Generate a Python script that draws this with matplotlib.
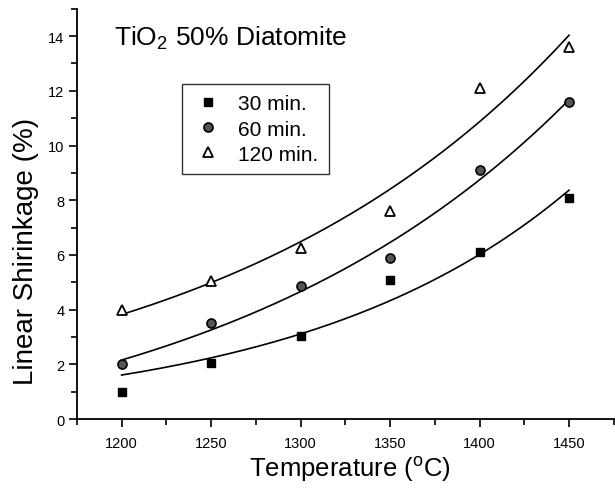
import numpy as np
import matplotlib
matplotlib.use("Agg")
import matplotlib.pyplot as plt
from matplotlib.ticker import MultipleLocator

temps = [1200, 1250, 1300, 1350, 1400, 1450]
s30 = [1.0, 2.05, 3.05, 5.1, 6.1, 8.1]
s60 = [2.0, 3.5, 4.85, 5.9, 9.1, 11.6]
s120 = [4.0, 5.05, 6.25, 7.6, 12.1, 13.6]
labels = ["30 min.", "60 min.", "120 min."]
fit_offset = [False, True, True]

plt.rcParams['font.family'] = ['Liberation Sans', 'DejaVu Sans']

fig = plt.figure(figsize=(6.15, 4.89), dpi=100)
ax = fig.add_axes([0.125, 0.141, 0.873, 0.839])

x = np.array(temps, dtype=float)


def expfit(y, offset):
    """Least-squares fit of y = a*exp(b*(x-1200)) (+ c)."""
    y = np.array(y, dtype=float)
    best = None
    for b in np.linspace(0.001, 0.02, 3000):
        e = np.exp(b * (x - 1200))
        if offset:
            M = np.column_stack([e, np.ones_like(e)])
            coef, *_ = np.linalg.lstsq(M, y, rcond=None)
        else:
            M = np.column_stack([e, np.zeros_like(e)])
            coef = np.array([np.dot(e, y) / np.dot(e, e), 0.0])
        err = np.sum((M @ coef - y) ** 2)
        if best is None or err < best[0]:
            best = (err, coef[0], b, coef[1])
    return best[1], best[2], best[3]


xf = np.linspace(1200, 1450, 200)
styles = [
    dict(marker='s', mfc='black', mec='black', ms=6),
    dict(marker='o', mfc='#555555', mec='black', ms=6.5, mew=1.2),
    dict(marker='^', mfc='white', mec='black', ms=7, mew=1.3),
]
for ys, lab, st, off in zip([s30, s60, s120], labels, styles, fit_offset):
    a, b, c = expfit(ys, off)
    ax.plot(xf, a * np.exp(b * (xf - 1200)) + c, color='black', lw=1.2)
    ax.plot(temps, ys, linestyle='none', label=lab, **st)

ax.set_xlim(1175, 1475)
ax.set_ylim(0, 15)
ax.xaxis.set_major_locator(MultipleLocator(50))
ax.xaxis.set_minor_locator(MultipleLocator(25))
ax.yaxis.set_major_locator(MultipleLocator(2))
ax.yaxis.set_minor_locator(MultipleLocator(1))
ax.spines['top'].set_visible(False)
ax.spines['right'].set_visible(False)
for s in ['left', 'bottom']:
    ax.spines[s].set_linewidth(1.3)
ax.tick_params(which='major', direction='out', length=6, width=1.2, labelsize=10.5)
ax.tick_params(which='minor', direction='out', length=4, width=1.2)
ax.tick_params(axis='x', pad=6)
ax.tick_params(axis='y', pad=3)

ax.set_xlabel("Temperature ($\\mathregular{^{o}}$C)", fontsize=18.5)
ax.set_ylabel("Linear Shirinkage (%)", fontsize=20)
ax.xaxis.set_label_coords(0.508, -0.085)
ax.yaxis.set_label_coords(-0.07, 0.41)

ax.text(0.07, 0.965, "TiO$_\\mathregular{2}$ 50% Diatomite", transform=ax.transAxes,
        fontsize=19, va='top', ha='left')

leg = ax.legend(loc='upper left', bbox_to_anchor=(0.196, 0.817), fontsize=15,
                frameon=True, fancybox=False, edgecolor='black', handletextpad=0.7,
                borderpad=0.5, labelspacing=0.3, handlelength=1.5, borderaxespad=0)
leg.get_frame().set_linewidth(1.0)

fig.savefig("out.png", dpi=100)
